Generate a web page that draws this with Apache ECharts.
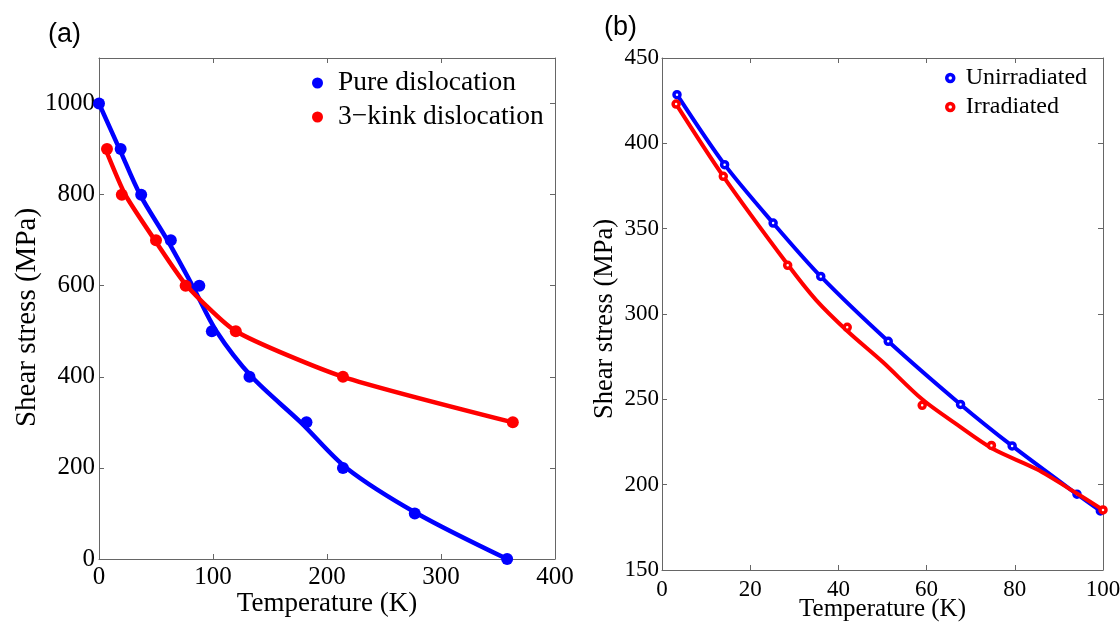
<!DOCTYPE html>
<html>
<head>
<meta charset="utf-8">
<script src="https://cdn.jsdelivr.net/npm/echarts@6/dist/echarts.min.js"></script>
<style>html,body{margin:0;padding:0;background:#fff;}#c{width:1120px;height:623px;}</style>
</head>
<body>
<div id="c"></div>
<script>
// ---- Panel (a) data ----
const pureMarkers = [[0,1000],[19,900],[37,800],[63,700],[88,600],[99,500],[132,400],[182,300],[214,200],[277,100],[358,0]];
const pureFit = [[0,1000],[18,900],[36,800],[60,700],[82,600],[103,500],[134,400],[177,300],[217,200],[279,100],[358,0]];
const kinkMarkers = [[7,900],[20,800],[50,700],[76,600],[120,500],[214,400],[363,300]];
const kinkFit = [[7,892],[23,800],[49,700],[77,600],[120,500],[214,400],[363,300]];
const aXTicks = [0,100,200,300,400];
const aYTicks = [0,200,400,600,800,1000];

// ---- Panel (b) data ----
const unirrMarkers = [[3.4,428.5],[14.2,387.5],[25.2,353.3],[36,322],[51.3,284],[67.7,247],[79.4,222.7],[94.1,194.4],[99.4,184.6]];
const unirrFit = [[3.4,428.5],[14.2,387.5],[25.2,353.3],[36,322],[51.3,284],[67.7,247],[79.4,222.7],[94.1,194.4],[99.4,184.6]];
const irrMarkers = [[3.2,423],[13.9,380.7],[28.5,328.5],[42,292.2],[59,246.5],[74.7,223],[100,185.2]];
const irrFit = [[3.2,423],[13.9,380.7],[28.5,329],[35,308],[42.2,289.6],[50,272],[59,250],[67,235],[75,221],[85,209],[94,195],[100,185.2]];
const bXTicks = [0,20,40,60,80,100];
const bYTicks = [150,200,250,300,350,400,450];

const BLUE = '#0000ff', RED = '#ff0000', AX = '#666666';
const SERIF = 'Liberation Serif, Times New Roman, serif';

function axisBase(min, max, interval, showLabel, fs, margin) {
  return {
    type: 'value', min: min, max: max, interval: interval,
    nameMoveOverlap: false,
    splitLine: {show: false},
    axisLine: {show: true, onZero: false, lineStyle: {color: AX, width: 1}},
    axisTick: {show: true, inside: true, length: 5, lineStyle: {color: AX}},
    axisLabel: {show: showLabel, fontFamily: SERIF, fontSize: fs, color: '#000', margin: margin,
                showMaxLabel: false, showMinLabel: true, formatter: function (v) { return String(v); }}
  };
}

const chart = echarts.init(document.getElementById('c'), null, {renderer: 'canvas'});

const xAxes = [];
const yAxes = [];
// panel a
let xa = axisBase(aXTicks[0], aXTicks[aXTicks.length-1], 100, true, 25, 6);
xa.gridIndex = 0; xa.position = 'bottom'; xa.axisLabel.showMaxLabel = true;
xa.name = 'Temperature (K)'; xa.nameLocation = 'middle'; xa.nameGap = 31;
xa.nameTextStyle = {fontFamily: SERIF, fontSize: 27, color: '#000'};
xAxes.push(xa);
let xa2 = axisBase(0, 400, 100, false, 25, 6); xa2.gridIndex = 0; xa2.position = 'top';
xAxes.push(xa2);
let ya = axisBase(aYTicks[0], 1100, 200, true, 25, 4);
ya.gridIndex = 0; ya.position = 'left';
ya.name = 'Shear stress (MPa)'; ya.nameLocation = 'middle'; ya.nameGap = 57;
ya.nameTextStyle = {fontFamily: SERIF, fontSize: 29, color: '#000', padding: [0, 18, 0, 0]};
yAxes.push(ya);
let ya2 = axisBase(0, 1100, 200, false, 25, 4); ya2.gridIndex = 0; ya2.position = 'right';
yAxes.push(ya2);
// panel b
let xb = axisBase(bXTicks[0], bXTicks[bXTicks.length-1], 20, true, 23, 8);
xb.gridIndex = 1; xb.position = 'bottom'; xb.axisLabel.showMaxLabel = true;
xb.name = 'Temperature (K)'; xb.nameLocation = 'middle'; xb.nameGap = 27;
xb.nameTextStyle = {fontFamily: SERIF, fontSize: 25, color: '#000'};
xAxes.push(xb);
let xb2 = axisBase(0, 100, 20, false, 23, 8); xb2.gridIndex = 1; xb2.position = 'top';
xAxes.push(xb2);
let yb = axisBase(bYTicks[0], bYTicks[bYTicks.length-1], 50, true, 23, 3);
yb.gridIndex = 1; yb.position = 'left'; yb.axisLabel.showMaxLabel = true;
yb.name = 'Shear stress (MPa)'; yb.nameLocation = 'middle'; yb.nameGap = 43;
yb.nameTextStyle = {fontFamily: SERIF, fontSize: 26.5, color: '#000', padding: [0, 10, 0, 0]};
yAxes.push(yb);
let yb2 = axisBase(150, 450, 50, false, 23, 3); yb2.gridIndex = 1; yb2.position = 'right';
yAxes.push(yb2);

const option = {
  animation: false,
  backgroundColor: '#fff',
  title: [
    {text: '(a)', left: 48, top: 21, padding: 0, textStyle: {fontFamily: 'Liberation Sans, Arial, sans-serif', fontSize: 27, fontWeight: 'normal', color: '#000'}},
    {text: '(b)', left: 604, top: 14, padding: 0, textStyle: {fontFamily: 'Liberation Sans, Arial, sans-serif', fontSize: 27, fontWeight: 'normal', color: '#000'}}
  ],
  grid: [
    {left: 99, right: 565, top: 58, bottom: 64, containLabel: false, outerBoundsMode: 'none'},
    {left: 662, right: 17, top: 58, bottom: 53, containLabel: false, outerBoundsMode: 'none'}
  ],
  legend: [
    {data: ['Pure dislocation', '3\u2212kink dislocation'], orient: 'vertical', left: 312, top: 69, padding: 0,
     itemGap: 6, itemWidth: 11, itemHeight: 11, icon: 'circle',
     textStyle: {fontFamily: SERIF, fontSize: 27.5, color: '#000', padding: [0,0,0,10]}},
    {data: [
       {name: 'Unirradiated', itemStyle: {color: '#ffffff', borderColor: BLUE, borderWidth: 3.5}},
       {name: 'Irradiated', itemStyle: {color: '#ffffff', borderColor: RED, borderWidth: 3.5}}
     ], orient: 'vertical', left: 945, top: 66, padding: 0,
     itemGap: 5, itemWidth: 7, itemHeight: 7, icon: 'circle',
     textStyle: {fontFamily: SERIF, fontSize: 24, color: '#000', padding: [0,0,0,7]}}
  ],
  xAxis: xAxes,
  yAxis: yAxes,
  series: [
    {type: 'line', name: 'pure fit', xAxisIndex: 0, yAxisIndex: 0, data: pureFit, smooth: 0.3, showSymbol: false,
     lineStyle: {color: BLUE, width: 4.5}, itemStyle: {color: BLUE}, z: 2},
    {type: 'scatter', name: 'Pure dislocation', xAxisIndex: 0, yAxisIndex: 0, data: pureMarkers, symbol: 'circle', symbolSize: 12,
     itemStyle: {color: BLUE, opacity: 1}, z: 3},
    {type: 'line', name: 'kink fit', xAxisIndex: 0, yAxisIndex: 0, data: kinkFit, smooth: 0.2, showSymbol: false,
     lineStyle: {color: RED, width: 4.5}, itemStyle: {color: RED}, z: 4},
    {type: 'scatter', name: '3\u2212kink dislocation', xAxisIndex: 0, yAxisIndex: 0, data: kinkMarkers, symbol: 'circle', symbolSize: 12,
     itemStyle: {color: RED, opacity: 1}, z: 5},

    {type: 'line', name: 'unirr fit', xAxisIndex: 2, yAxisIndex: 2, data: unirrFit, smooth: 0.3, showSymbol: false,
     lineStyle: {color: BLUE, width: 4}, itemStyle: {color: BLUE}, z: 2},
    {type: 'scatter', name: 'Unirradiated', xAxisIndex: 2, yAxisIndex: 2, data: unirrMarkers, symbol: 'circle', symbolSize: 6,
     itemStyle: {color: '#ffffff', borderColor: BLUE, borderWidth: 3.5, opacity: 1}, z: 3},
    {type: 'line', name: 'irr fit', xAxisIndex: 2, yAxisIndex: 2, data: irrFit, smooth: 0.3, showSymbol: false,
     lineStyle: {color: RED, width: 4}, itemStyle: {color: RED}, z: 4},
    {type: 'scatter', name: 'Irradiated', xAxisIndex: 2, yAxisIndex: 2, data: irrMarkers, symbol: 'circle', symbolSize: 6,
     itemStyle: {color: '#ffffff', borderColor: RED, borderWidth: 3.5, opacity: 1}, z: 5}
  ]
};
chart.setOption(option);
</script>
</body>
</html>
